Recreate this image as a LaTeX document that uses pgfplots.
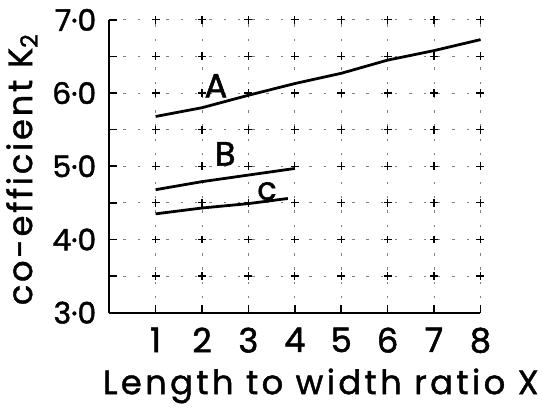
\documentclass[border=0pt]{standalone}
\usepackage{fontspec}
\setmainfont{Poppins}
\newfontfamily\hand{Poppins}[FakeBold=1.2, LetterSpace=8]
\newfontfamily\handwide{Poppins}[FakeBold=1.2, LetterSpace=10]
\newfontfamily\handnum{Poppins}[FakeBold=1.5]
\usepackage{pgfplots}
\pgfplotsset{compat=1.18}

\begin{document}
\begin{tikzpicture}
\begin{axis}[
  scale only axis, width=187pt, height=147.5pt,
  xmin=0, xmax=8, ymin=3, ymax=7,
  axis x line*=bottom, axis y line*=left,
  axis line style={line width=1.1pt},
  xtick={1,2,3,4,5,6,7,8},
  xticklabels={1,2,3,4,5,6,7,8},
  ytick={3,4,5,6,7},
  yticklabels={3·0,4·0,5·0,6·0,7·0},
  minor ytick={3.5,4.5,5.5,6.5},
  tick align=inside,
  major tick length=4pt, minor tick length=4pt,
  tick style={black, line width=0.8pt},
  xmajorgrids, ymajorgrids, yminorgrids,
  major grid style={black!50, line width=0.5pt, dash pattern=on 1.2pt off 6pt},
  minor grid style={black!50, line width=0.5pt, dash pattern=on 1.2pt off 6pt},
  xticklabel style={font=\handnum\fontsize{17}{20}\selectfont, yshift=-4pt},
  yticklabel style={font=\handnum\fontsize{15}{18}\selectfont, xshift=-3pt},
  xlabel={Length to width ratio X},
  xlabel style={at={(axis description cs:0.57,-0.25)}, anchor=center,
    font=\handwide\fontsize{17}{20}\selectfont},
  ylabel={co-efficient K\textsubscript{2}},
  ylabel style={at={(axis description cs:-0.235,0.49)}, anchor=center,
    font=\hand\fontsize{17}{20}\selectfont},
  clip=false,
]
% crosses at the grid points
\addplot[only marks, mark=+, mark size=2pt, mark options={line width=0.6pt}] coordinates {
  (1,3.5) (2,3.5) (3,3.5) (4,3.5) (5,3.5) (6,3.5) (7,3.5) (8,3.5)
  (1,4.0) (2,4.0) (3,4.0) (4,4.0) (5,4.0) (6,4.0) (7,4.0) (8,4.0)
  (1,4.5) (2,4.5) (3,4.5) (4,4.5) (5,4.5) (6,4.5) (7,4.5) (8,4.5)
  (1,5.0) (2,5.0) (3,5.0) (4,5.0) (5,5.0) (6,5.0) (7,5.0) (8,5.0)
  (1,5.5) (2,5.5) (3,5.5) (4,5.5) (5,5.5) (6,5.5) (7,5.5) (8,5.5)
  (1,6.0) (2,6.0) (3,6.0) (4,6.0) (5,6.0) (6,6.0) (7,6.0) (8,6.0)
  (1,6.5) (2,6.5) (3,6.5) (4,6.5) (5,6.5) (6,6.5) (7,6.5) (8,6.5)
  (1,7.0) (2,7.0) (3,7.0) (4,7.0) (5,7.0) (6,7.0) (7,7.0) (8,7.0)
};
% curve A
\addplot[black, line width=1.4pt] coordinates {
  (1,5.68) (2,5.80) (3,5.97) (4,6.13) (5,6.27) (6,6.45) (7,6.58) (8,6.73)
};
% curve B
\addplot[black, line width=1.4pt] coordinates {
  (1,4.68) (2,4.79) (3,4.88) (4,4.97)
};
% curve C
\addplot[black, line width=1.4pt] coordinates {
  (1,4.35) (2,4.43) (3,4.49) (3.85,4.56)
};
\node[font=\handnum\fontsize{17}{20}\selectfont] at (axis cs:2.3,6.1) {A};
\node[font=\handnum\fontsize{17}{20}\selectfont] at (axis cs:2.5,5.17) {B};
\node[font=\handnum\fontsize{16}{18}\selectfont] at (axis cs:3.4,4.66) {c};
\end{axis}
\pgfresetboundingbox
\path ([xshift=-55pt,yshift=-48.5pt]current axis.south west)
  rectangle ([xshift=31pt,yshift=10pt]current axis.north east);
\end{tikzpicture}
\end{document}
